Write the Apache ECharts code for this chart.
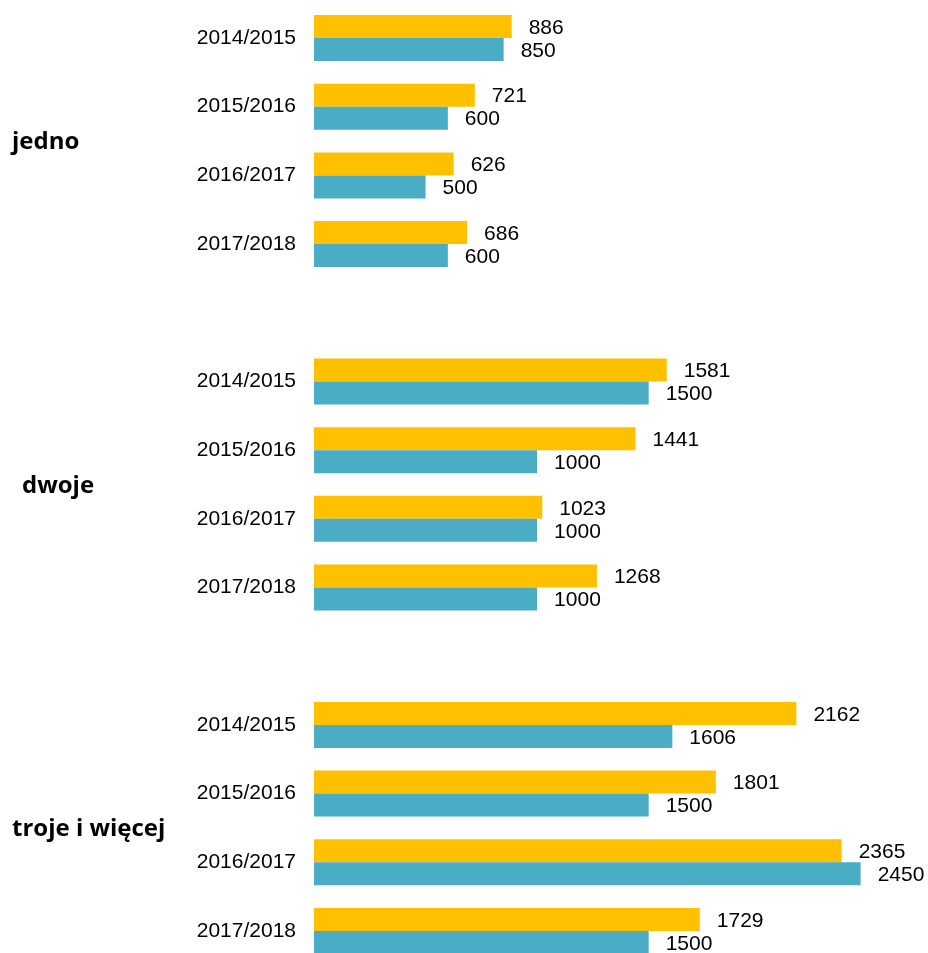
<!DOCTYPE html>
<html>
<head>
<meta charset="utf-8">
<script src="https://cdn.jsdelivr.net/npm/echarts@6/dist/echarts.min.js"></script>
<style>html,body{margin:0;padding:0;background:#fff;}#c{width:928px;height:953px;}</style>
</head>
<body>
<div id="c"></div>
<script>
var categories = ['2014/2015','2015/2016','2016/2017','2017/2018','',
                  '2014/2015','2015/2016','2016/2017','2017/2018','',
                  '2014/2015','2015/2016','2016/2017','2017/2018'];
var yellowValues = [886, 721, 626, 686, null, 1581, 1441, 1023, 1268, null, 2162, 1801, 2365, 1729];
var tealValues   = [850, 600, 500, 600, null, 1500, 1000, 1000, 1000, null, 1606, 1500, 2450, 1500];
var groupLabels = ['jedno', 'dwoje', 'troje i więcej'];
var groupCenters = [1.5, 6.5, 11.5];
var groupLabelX = [12, 22, 12];

var chart = echarts.init(document.getElementById('c'));
var labelStyle = {show: true, position: 'right', distance: 17, offset: [0, 1.5], color: '#000', fontFamily: 'Liberation Sans, Arial, sans-serif', fontSize: 21};
chart.setOption({
  animation: false,
  grid: {left: 314, top: 3.65, width: 557.8, height: 961.7, containLabel: false, outerBoundsMode: 'none'},
  xAxis: {type: 'value', min: 0, max: 2500, show: false},
  yAxis: {
    type: 'category', data: categories, inverse: true,
    axisLine: {show: false}, axisTick: {show: false},
    axisLabel: {margin: 18, color: '#000', fontFamily: 'Liberation Sans, Arial, sans-serif', fontSize: 21}
  },
  series: [
    {type: 'bar', data: yellowValues, barWidth: 23, barGap: '0%', itemStyle: {color: '#FFC000'}, label: labelStyle},
    {type: 'bar', data: tealValues, barWidth: 23, barGap: '0%', itemStyle: {color: '#4BACC6'}, label: labelStyle}
  ]
});
var graphics = groupLabels.map(function (t, i) {
  var y0 = chart.convertToPixel({yAxisIndex: 0}, Math.floor(groupCenters[i]));
  var y1 = chart.convertToPixel({yAxisIndex: 0}, Math.ceil(groupCenters[i]));
  return {type: 'text', x: groupLabelX[i], y: (y0 + y1) / 2 + 1.5,
    style: {text: t, fontFamily: 'Open Sans, sans-serif', fontWeight: 'bold', fontSize: 24, fill: '#000', verticalAlign: 'middle', align: 'left'}};
});
chart.setOption({graphic: graphics});
</script>
</body>
</html>
